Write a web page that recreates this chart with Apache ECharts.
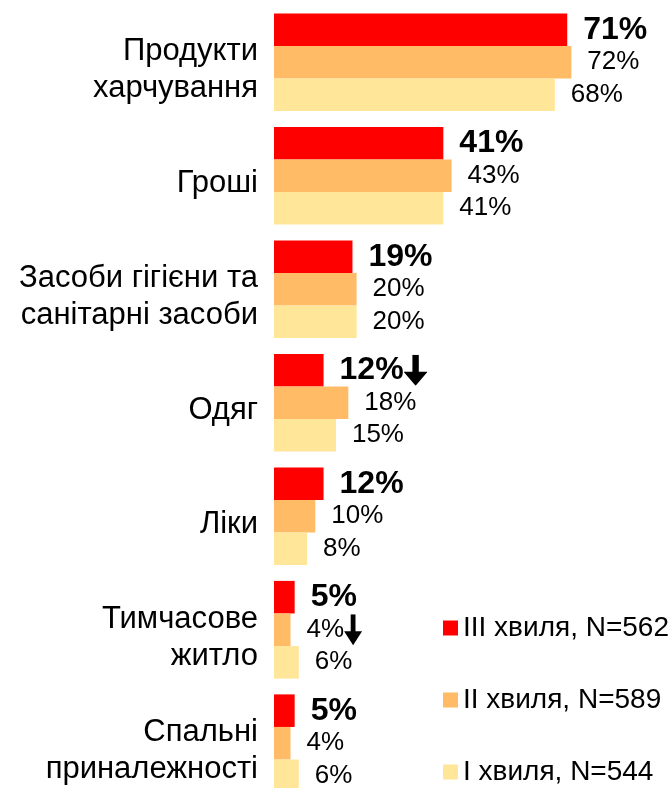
<!DOCTYPE html>
<html>
<head>
<meta charset="utf-8">
<script src="https://cdn.jsdelivr.net/npm/echarts@6/dist/echarts.min.js"></script>
<style>
  html, body { margin: 0; padding: 0; background: #ffffff; }
  #chart { width: 672px; height: 788px; }
</style>
</head>
<body>
<div id="chart"></div>
<script>
const categories = ['Продукти\nхарчування', 'Гроші', 'Засоби гігієни та\nсанітарні засоби', 'Одяг', 'Ліки', 'Тимчасове\nжитло', 'Спальні\nприналежності'];
const wave3 = [71, 41, 19, 12, 12, 5, 5];
const wave2 = [72, 43, 20, 18, 10, 4, 4];
const wave1 = [68, 41, 20, 15, 8, 6, 6];
const seriesNames = ['III хвиля, N=562', 'II хвиля, N=589', 'I хвиля, N=544'];
const downArrow3 = [false, false, false, true, false, false, false];
const downArrow2 = [false, false, false, false, false, true, false];
const downArrow1 = [false, false, false, false, false, false, false];

const FONT = '"Liberation Sans", Arial, sans-serif';
const arrowSvg = 'data:image/svg+xml;utf8,' + encodeURIComponent(
  '<svg xmlns="http://www.w3.org/2000/svg" width="18" height="31" viewBox="0 0 18 31"><path d="M6.6 0 H11.4 V17 H18 L9 31 L0 17 H6.6 Z" fill="#000"/></svg>'
);

function makeSeries(name, values, arrows, color, bold) {
  return {
    name: name,
    type: 'bar',
    data: values,
    barGap: '0%',
    barCategoryGap: '13.9%',
    itemStyle: { color: color },
    label: {
      show: true,
      position: 'right',
      distance: 16,
      formatter: function (p) {
        const txt = '{v|' + p.value + '%}';
        return arrows[p.dataIndex] ? txt + '{arr|}' : txt;
      },
      rich: {
        v: {
          fontFamily: FONT,
          fontSize: bold ? 32 : 26,
          fontWeight: bold ? 'bold' : 'normal',
          color: '#000'
        },
        arr: {
          width: 18,
          height: 31,
          padding: [0, 0, 0, bold ? 6 : 0],
          backgroundColor: { image: arrowSvg }
        }
      }
    }
  };
}

const chart = echarts.init(document.getElementById('chart'), null, { renderer: 'canvas' });
chart.setOption({
  animation: false,
  backgroundColor: '#ffffff',
  grid: {
    left: 274,
    top: 5.5,
    width: 413,
    height: 794.5,
    containLabel: false,
    outerBoundsMode: 'none'
  },
  xAxis: {
    type: 'value',
    min: 0,
    max: 100,
    show: false
  },
  yAxis: {
    type: 'category',
    data: categories,
    inverse: true,
    axisLine: { show: false },
    axisTick: { show: false },
    axisLabel: {
      margin: 16,
      align: 'right',
      formatter: function (v) {
        return '{s|}\n' + v.split('\n').map(function (l) { return '{t|' + l + '}'; }).join('\n');
      },
      rich: {
        s: { fontSize: 1, lineHeight: 16 },
        t: {
          fontFamily: FONT,
          fontSize: 31,
          lineHeight: 37,
          color: '#000',
          align: 'right'
        }
      }
    }
  },
  legend: {
    orient: 'vertical',
    left: 443,
    top: 614,
    height: 200,
    padding: 0,
    icon: 'rect',
    itemWidth: 15,
    itemHeight: 15,
    itemGap: 44,
    data: seriesNames,
    textStyle: {
      fontFamily: FONT,
      fontSize: 28,
      lineHeight: 28,
      color: '#000'
    }
  },
  series: [
    makeSeries(seriesNames[0], wave3, downArrow3, '#FF0000', true),
    makeSeries(seriesNames[1], wave2, downArrow2, '#FFBB66', false),
    makeSeries(seriesNames[2], wave1, downArrow1, '#FFE699', false)
  ]
});
</script>
</body>
</html>
